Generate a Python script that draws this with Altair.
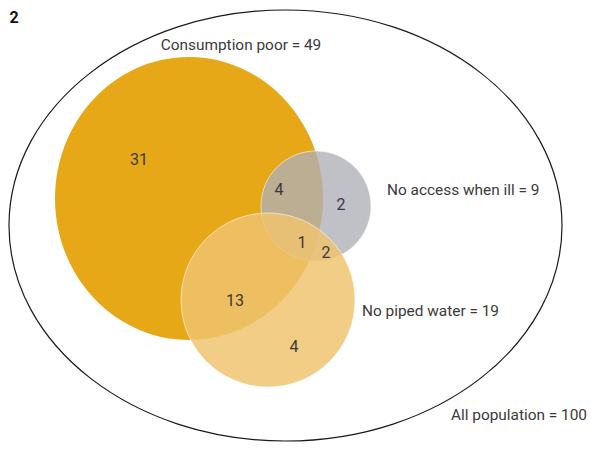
import altair as alt
import pandas as pd

# ---------------- data ----------------
set_names = ["Consumption poor", "No access when ill", "No piped water"]
set_totals = [49, 9, 19]
population_name = "All population"
population_total = 100
# exclusive region counts: CP only, CP&ILL, ILL only, all three, ILL&WATER, CP&WATER, WATER only
region_counts = [31, 4, 2, 1, 2, 13, 4]
panel_tag = "2"

# ---------------- layout (page pixel units) ----------------
X_DOM = [8, 588]
Y_DOM = [8, 442]
outer_center = (285.5, 225.5)
outer_radii = (276.5, 215.5)
set_centers = [(189, 198.5), (316, 206), (268, 300)]
set_radii = [(134, 141.5), (55, 55), (87, 87)]
set_fills = ["#E6A817", "#AEB0B6", "#F0C36F"]
set_alpha = [1.0, 0.78, 0.84]
set_label_pos = [(241, 45), (387, 190), (362, 311)]
set_label_align = ["center", "left", "left"]
pop_label_pos = (587, 415)
region_pos = [(139, 160), (279, 190), (341, 205), (302, 243), (326, 253), (235, 301), (294, 347)]
tag_pos = (9.5, 17.5)

FONT = "Roboto"
TXT = "#3a3a3a"


def ell_path(k):
    return f"M -1 0 A 1 {k:.4f} 0 1 0 1 0 A 1 {k:.4f} 0 1 0 -1 0 Z"


xenc = alt.X("x:Q", scale=alt.Scale(domain=X_DOM, nice=False, zero=False), axis=None)
yenc = alt.Y("y:Q", scale=alt.Scale(domain=Y_DOM, nice=False, zero=False, reverse=True), axis=None)

layers = []

# outer ellipse (all population)
odf = pd.DataFrame({"x": [outer_center[0]], "y": [outer_center[1]], "s": [(2 * outer_radii[0]) ** 2]})
layers.append(
    alt.Chart(odf).mark_point(
        shape=ell_path(outer_radii[1] / outer_radii[0]), filled=False,
        stroke="#1a1a1a", strokeWidth=1.2, opacity=1
    ).encode(x=xenc, y=yenc, size=alt.Size("s:Q", scale=None))
)

# set shapes
for i, name in enumerate(set_names):
    (cx, cy), (rx, ry) = set_centers[i], set_radii[i]
    df = pd.DataFrame({"x": [cx], "y": [cy], "s": [(2 * rx) ** 2], "set": [name]})
    layers.append(
        alt.Chart(df).mark_point(
            shape=ell_path(ry / rx), filled=True, fill=set_fills[i],
            fillOpacity=set_alpha[i], opacity=1,
            stroke="white", strokeWidth=0.8 if i > 0 else 0, strokeOpacity=0.7
        ).encode(x=xenc, y=yenc, size=alt.Size("s:Q", scale=None))
    )

# set labels
for i, name in enumerate(set_names):
    df = pd.DataFrame({"x": [set_label_pos[i][0]], "y": [set_label_pos[i][1]],
                       "t": [f"{name} = {set_totals[i]}"]})
    layers.append(
        alt.Chart(df).mark_text(font=FONT, fontSize=15.4, color=TXT,
                                align=set_label_align[i], baseline="middle")
        .encode(x=xenc, y=yenc, text="t:N")
    )

# population label
pdf = pd.DataFrame({"x": [pop_label_pos[0]], "y": [pop_label_pos[1]],
                    "t": [f"{population_name} = {population_total}"]})
layers.append(
    alt.Chart(pdf).mark_text(font=FONT, fontSize=15.4, color=TXT, align="right", baseline="middle")
    .encode(x=xenc, y=yenc, text="t:N")
)

# region counts
rdf = pd.DataFrame({"x": [p[0] for p in region_pos], "y": [p[1] for p in region_pos],
                    "t": [str(v) for v in region_counts]})
layers.append(
    alt.Chart(rdf).mark_text(font=FONT, fontSize=16, color=TXT, align="center", baseline="middle")
    .encode(x=xenc, y=yenc, text="t:N")
)

# panel tag
tdf = pd.DataFrame({"x": [tag_pos[0]], "y": [tag_pos[1]], "t": [panel_tag]})
layers.append(
    alt.Chart(tdf).mark_text(font=FONT, fontSize=16, fontWeight="bold", color="#111111",
                             align="left", baseline="middle")
    .encode(x=xenc, y=yenc, text="t:N")
)

chart = alt.layer(*layers).properties(
    width=X_DOM[1] - X_DOM[0], height=Y_DOM[1] - Y_DOM[0],
    autosize=alt.AutoSizeParams(type="none"), padding=0
).configure_view(stroke=None)

chart.save("out.html", embed_options={"renderer": "svg", "actions": False})
